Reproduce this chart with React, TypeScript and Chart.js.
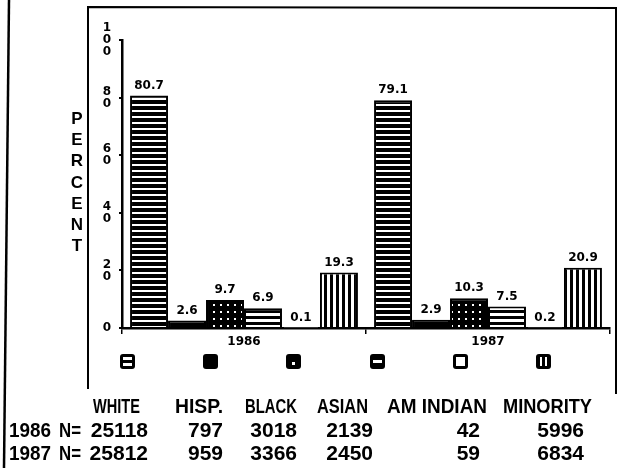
import React, { useEffect, useRef } from "react";
import { Chart, registerables } from "chart.js";

Chart.register(...registerables);

// ---- data ----
const categories = ["1986", "1987"];
const groupNames = ["WHITE", "HISP.", "BLACK", "ASIAN", "AM INDIAN", "MINORITY"];
const whitePct = [80.7, 79.1];
const hispPct = [2.6, 2.9];
const blackPct = [9.7, 10.3];
const asianPct = [6.9, 7.5];
const amIndianPct = [0.1, 0.2];
const minorityPct = [19.3, 20.9];
const yTickValues = [0, 20, 40, 60, 80, 100];
const axisTitle = "PERCENT";
const tableHeaders = ["WHITE", "HISP.", "BLACK", "ASIAN", "AM INDIAN", "MINORITY"];
const rowYears = ["1986", "1987"];
const rowPrefix = "N=";
const counts1986 = [25118, 797, 3018, 2139, 42, 5996];
const counts1987 = [25812, 959, 3366, 2450, 59, 6834];

const seriesValues = [whitePct, hispPct, blackPct, asianPct, amIndianPct, minorityPct];
const countRows = [counts1986, counts1987];

// ---- styles ----
const patternKinds = ["hlinesDark", "solid", "dots", "hlinesLight", "empty", "vlines"];

function makePattern(kind: string): CanvasPattern | string {
  if (kind === "solid") return "#000";
  if (kind === "empty") return "#fff";
  const c = document.createElement("canvas");
  let w = 6, h = 6;
  if (kind === "dots") { w = 7; h = 7; }
  c.width = w; c.height = h;
  const g = c.getContext("2d")!;
  if (kind === "hlinesDark") {
    g.fillStyle = "#000"; g.fillRect(0, 0, w, h);
    g.fillStyle = "#fff"; g.fillRect(0, 2, w, 2);
  } else if (kind === "hlinesLight") {
    g.fillStyle = "#000"; g.fillRect(0, 0, w, h);
    g.fillStyle = "#fff"; g.fillRect(0, 1, w, 3);
  } else if (kind === "dots") {
    g.fillStyle = "#000"; g.fillRect(0, 0, w, h);
    g.fillStyle = "#fff"; g.fillRect(3, 3, 2, 2);
  } else if (kind === "vlines") {
    g.fillStyle = "#fff"; g.fillRect(0, 0, w, h);
    g.fillStyle = "#000"; g.fillRect(0, 0, 3, h);
  }
  return g.createPattern(c, "repeat") || "#000";
}

function roundRect(ctx: CanvasRenderingContext2D, x: number, y: number, w: number, h: number, r: number) {
  ctx.beginPath();
  ctx.moveTo(x + r, y);
  ctx.lineTo(x + w - r, y);
  ctx.quadraticCurveTo(x + w, y, x + w, y + r);
  ctx.lineTo(x + w, y + h - r);
  ctx.quadraticCurveTo(x + w, y + h, x + w - r, y + h);
  ctx.lineTo(x + r, y + h);
  ctx.quadraticCurveTo(x, y + h, x, y + h - r);
  ctx.lineTo(x, y + r);
  ctx.quadraticCurveTo(x, y, x + r, y);
  ctx.closePath();
}

function drawIcon(ctx: CanvasRenderingContext2D, kind: string, cx: number, cy: number) {
  const w = 15, h = 15;
  const x = Math.round(cx - w / 2), y = Math.round(cy - h / 2);
  ctx.fillStyle = "#000";
  roundRect(ctx, x, y, w, h, 3);
  ctx.fill();
  ctx.fillStyle = "#fff";
  if (kind === "hlinesDark") {
    ctx.fillRect(x + 3, y + 3, w - 6, 3);
    ctx.fillRect(x + 3, y + 9, w - 6, 3);
  } else if (kind === "dots") {
    ctx.fillRect(x + 6, y + 8, 3, 3);
  } else if (kind === "hlinesLight") {
    ctx.fillRect(x + 3, y + 6, w - 6, 3);
  } else if (kind === "empty") {
    ctx.fillRect(x + 3, y + 3, w - 6, h - 6);
  } else if (kind === "vlines") {
    ctx.fillRect(x + 4, y + 3, 2, h - 6);
    ctx.fillRect(x + 9, y + 3, 2, h - 6);
  }
}

const decorPlugin = {
  id: "decor",
  beforeDraw(chart: any) {
    const ctx = chart.ctx as CanvasRenderingContext2D;
    ctx.save();
    ctx.fillStyle = "#fff";
    ctx.fillRect(0, 0, chart.width, chart.height);
    ctx.strokeStyle = "#000";
    // page edge line
    ctx.lineWidth = 2.5;
    ctx.beginPath();
    ctx.moveTo(9, 0);
    ctx.lineTo(4, chart.height);
    ctx.stroke();
    // chart frame
    ctx.lineWidth = 2;
    ctx.beginPath();
    ctx.moveTo(88, 389);
    ctx.lineTo(88, 7);
    ctx.lineTo(616, 8);
    ctx.lineTo(616, 394);
    ctx.stroke();
    ctx.restore();
  },
  afterDatasetsDraw(chart: any) {
    const ctx = chart.ctx as CanvasRenderingContext2D;
    ctx.save();
    ctx.font = 'bold 12px "DejaVu Sans"';
    ctx.fillStyle = "#000";
    ctx.textAlign = "center";
    ctx.textBaseline = "bottom";
    chart.data.datasets.forEach((ds: any, i: number) => {
      const meta = chart.getDatasetMeta(i);
      meta.data.forEach((el: any, j: number) => {
        const v = ds.data[j] as number;
        const y = Math.min(el.y - 4, chart.chartArea.bottom - 3);
        ctx.fillText(v.toFixed(1), el.x, y);
      });
    });
    ctx.restore();
  },
  afterDraw(chart: any) {
    const ctx = chart.ctx as CanvasRenderingContext2D;
    const area = chart.chartArea;
    ctx.save();
    // legend icons
    chart.data.datasets.forEach((ds: any, i: number) => {
      drawIcon(ctx, ds.iconKind, area.left + 5.5 + i * 83.2, 361);
    });
    // axis title letters
    ctx.fillStyle = "#000";
    ctx.font = 'bold 17px "Liberation Sans"';
    ctx.textAlign = "center";
    ctx.textBaseline = "middle";
    axisTitle.split("").forEach((ch, i) => {
      ctx.fillText(ch, 77, 119 + i * 21.3);
    });
    // table
    const headerPos = [[93, 47], [175, 48], [245, 52], [317, 51], [387, 100], [503, 89]];
    const countRight = [148, 223, 297, 373, 480, 584];
    const rowBase = [437, 460];
    ctx.textBaseline = "alphabetic";
    ctx.font = 'bold 21px "Liberation Sans"';
    ctx.textAlign = "left";
    tableHeaders.forEach((t, i) => {
      ctx.fillText(t, headerPos[i][0], 413, headerPos[i][1]);
    });
    countRows.forEach((row, r) => {
      ctx.textAlign = "left";
      ctx.fillText(rowYears[r], 9, rowBase[r], 42);
      ctx.fillText(rowPrefix, 59, rowBase[r], 22);
      ctx.textAlign = "right";
      row.forEach((n, i) => {
        ctx.fillText(String(n), countRight[i], rowBase[r]);
      });
    });
    ctx.restore();
  },
};

export default function App() {
  const ref = useRef<HTMLCanvasElement | null>(null);
  useEffect(() => {
    document.body.style.margin = "0";
    const canvas = ref.current!;
    const datasets = groupNames.map((name, i) => ({
      label: name,
      data: seriesValues[i],
      backgroundColor: makePattern(patternKinds[i]),
      borderColor: "#000",
      borderWidth: 2,
      barPercentage: 1,
      categoryPercentage: 0.934,
      iconKind: patternKinds[i],
    }));
    const chart = new Chart(canvas, {
      type: "bar",
      data: { labels: categories, datasets: datasets as any },
      plugins: [decorPlugin as any],
      options: {
        animation: false,
        responsive: false,
        devicePixelRatio: 1,
        layout: { padding: { top: 40, right: 10, bottom: 110, left: 0 } },
        plugins: { legend: { display: false }, tooltip: { enabled: false }, title: { display: false } },
        scales: {
          x: {
            type: "category",
            offset: true,
            grid: { display: true, drawOnChartArea: false, drawTicks: true, tickLength: 6, color: "#000", lineWidth: 1.5, offset: true },
            border: { display: true, color: "#000", width: 2.5 },
            ticks: { color: "#000", padding: 1, font: { family: "DejaVu Sans", size: 12, weight: "bold" } },
            afterFit: (s: any) => { s.height = 30; },
          },
          y: {
            min: 0,
            max: 100,
            afterBuildTicks: (s: any) => { s.ticks = yTickValues.map((v) => ({ value: v })); },
            grid: { display: true, drawOnChartArea: false, drawTicks: true, tickLength: 3, color: "#000", lineWidth: 2 },
            border: { display: true, color: "#000", width: 2.5 },
            ticks: {
              color: "#000",
              padding: 8,
              font: { family: "DejaVu Sans", size: 12, weight: "bold", lineHeight: 1.0 },
              callback: (v: any) => String(v).split(""),
            },
            afterFit: (s: any) => { s.width = 122; },
          },
        },
      } as any,
    });
    return () => chart.destroy();
  }, []);
  return (
    <div style={{ width: 620, height: 468, position: "relative" }}>
      <canvas ref={ref} width={620} height={468} style={{ display: "block" }} />
    </div>
  );
}
